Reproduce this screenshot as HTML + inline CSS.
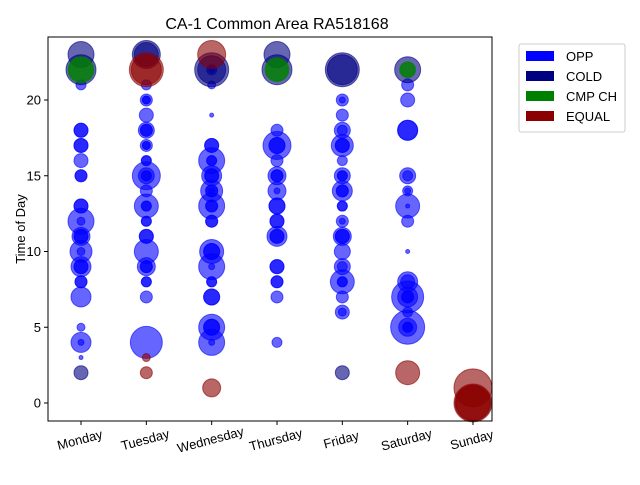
<!DOCTYPE html>
<html><head><meta charset="utf-8"><style>
body{margin:0;background:#fff;font-family:"Liberation Sans",sans-serif}
svg text{font-family:"Liberation Sans",sans-serif;fill:#000}
</style></head><body>
<svg id="chart" width="640" height="480" xmlns="http://www.w3.org/2000/svg">
<text x="277" y="29" font-size="16" text-anchor="middle">CA-1 Common Area RA518168</text>
<g id="marks"></g>
<rect x="48" y="37" width="444" height="384" fill="none" stroke="#000" stroke-width="1"/>
<g id="axes"></g>
<text x="25" y="229" font-size="13" text-anchor="middle" transform="rotate(-90 25 229)">Time of Day</text>
<g>
<rect x="519" y="44" width="106" height="88" fill="#fff" stroke="#ccc" rx="2"/>
<rect x="526" y="51" width="28" height="10" fill="#0000ff"/>
<text x="566" y="61" font-size="13">OPP</text>
<rect x="526" y="71" width="28" height="10" fill="#000080"/>
<text x="566" y="81" font-size="13">COLD</text>
<rect x="526" y="91" width="28" height="10" fill="#008000"/>
<text x="566" y="101" font-size="13">CMP CH</text>
<rect x="526" y="111" width="28" height="10" fill="#8b0000"/>
<text x="566" y="121" font-size="13">EQUAL</text>
</g>
</svg>
<script>
const categories=["Monday","Tuesday","Wednesday","Thursday","Friday","Saturday","Sunday"];
const yTicks=[0,5,10,15,20];
// series: [dayIndex, hour, radius]
const opp=[
[0,21,5],[0,18,7],[0,18,7],[0,17,7],[0,17,7],[0,16,7],[0,15,6],[0,15,6],[0,13,7],[0,13,7],[0,12,13],[0,12,4],[0,11,9],[0,11,7],[0,11,7],[0,10,11],[0,10,4],[0,9,10],[0,9,7],[0,9,7],[0,8,6],[0,8,6],[0,7,10],[0,5,4],[0,4,10],[0,4,3],[0,3,2],
[1,21,5],[1,20,6],[1,20,4],[1,20,4],[1,19,7],[1,18,8],[1,18,6],[1,18,6],[1,17,6],[1,17,4],[1,17,4],[1,16,5],[1,16,5],[1,15,14],[1,15,8],[1,15,5],[1,15,5],[1,14,6],[1,13,12],[1,13,5],[1,13,5],[1,12,5],[1,12,5],[1,11,7],[1,11,7],[1,10,12],[1,9,9],[1,9,6],[1,9,6],[1,8,5],[1,8,5],[1,7,6],[1,4,16],
[2,22,5],[2,22,3],[2,21,4],[2,19,2],[2,17,7],[2,17,7],[2,16,13],[2,16,5],[2,16,5],[2,15,10],[2,15,7],[2,15,7],[2,14,11],[2,14,6],[2,14,6],[2,14,3],[2,13,13],[2,13,6],[2,13,6],[2,12,6],[2,12,6],[2,10,12],[2,10,8],[2,10,8],[2,9,13],[2,9,3],[2,8,5],[2,8,5],[2,7,8],[2,7,8],[2,5,13],[2,5,8],[2,5,8],[2,4,13],[2,4,3],
[3,18,6],[3,17,14],[3,17,8],[3,17,8],[3,16,6],[3,15,9],[3,15,6],[3,15,6],[3,14,9],[3,14,3],[3,13,8],[3,13,8],[3,12,7],[3,12,7],[3,11,10],[3,11,7],[3,11,7],[3,9,7],[3,9,7],[3,8,6],[3,8,6],[3,7,6],[3,4,5],
[4,20,6],[4,20,3],[4,19,6],[4,18,8],[4,18,5],[4,17,11],[4,17,7],[4,17,7],[4,16,5],[4,15,8],[4,15,5],[4,15,5],[4,14,10],[4,14,6],[4,14,6],[4,13,5],[4,13,5],[4,12,6],[4,12,3],[4,11,9],[4,11,7],[4,11,7],[4,10,8],[4,9,8],[4,9,5],[4,8,12],[4,8,5],[4,8,5],[4,7,6],[4,6,7],[4,6,4],
[5,21,6],[5,20,7],[5,18,10],[5,18,10],[5,15,8],[5,15,5],[5,14,5],[5,14,3],[5,13,12],[5,13,2],[5,12,6],[5,10,2],[5,8,10],[5,8,7],[5,7,16],[5,7,10],[5,7,6],[5,7,6],[5,6,5],[5,5,17],[5,5,9],[5,5,5],[5,5,5]];
const cold=[[0,23,13],[0,22,15],[1,23,14],[1,23,12],[2,22,17],[2,22,14],[3,23,13],[3,22,15],[4,22,17],[4,22,15],[5,22,13],[0,2,7],[4,2,7]];
const cmpch=[[0,22,13],[0,22,12],[3,22,12],[3,22,11],[5,22,8],[5,22,7]];
const equal=[[1,22,17],[1,22,15],[2,23,14],[1,3,4],[1,2,6],[2,1,9],[5,2,12],[6,1,19],[6,0,19],[6,0,18],[6,0,17]];
const X0=81,DX=65.33,Y0=403,DY=15.15;
function xs(i){return X0+i*DX}
function ys(v){return Y0-v*DY}
const NS="http://www.w3.org/2000/svg";
const marks=document.getElementById("marks");
function draw(arr,color,name){
  arr.forEach(p=>{
    const c=document.createElementNS(NS,"circle");
    c.setAttribute("cx",xs(p[0]));c.setAttribute("cy",ys(p[1]));c.setAttribute("r",p[2]);
    c.setAttribute("fill",color);c.setAttribute("fill-opacity","0.6");
    c.setAttribute("stroke",color);c.setAttribute("stroke-opacity","0.6");
    
    
    marks.appendChild(c);
  });
}
draw(opp,"#0000ff","opp-bubble");
draw(cold,"#000080","cold-bubble");
draw(cmpch,"#008000","cmp-ch-bubble");
draw(equal,"#8b0000","equal-bubble");
const axes=document.getElementById("axes");
yTicks.forEach(t=>{
  const y=ys(t);
  const l=document.createElementNS(NS,"line");
  l.setAttribute("x1",44);l.setAttribute("x2",48);l.setAttribute("y1",y);l.setAttribute("y2",y);l.setAttribute("stroke","#000");
  
  
  axes.appendChild(l);
  const tx=document.createElementNS(NS,"text");
  tx.setAttribute("x",41);tx.setAttribute("y",y+4.5);tx.setAttribute("font-size","13");tx.setAttribute("text-anchor","end");
  tx.textContent=t;
  
  
  axes.appendChild(tx);
});
categories.forEach((c,i)=>{
  const x=xs(i);
  const l=document.createElementNS(NS,"line");
  l.setAttribute("x1",x);l.setAttribute("x2",x);l.setAttribute("y1",421);l.setAttribute("y2",425);l.setAttribute("stroke","#000");
  
  
  axes.appendChild(l);
  const tx=document.createElementNS(NS,"text");
  tx.setAttribute("x",x);tx.setAttribute("y",444);tx.setAttribute("font-size","13");tx.setAttribute("text-anchor","middle");
  tx.setAttribute("transform","rotate(-15 "+x+" 444)");
  tx.textContent=c;
  
  
  axes.appendChild(tx);
});
</script>
</body></html>
